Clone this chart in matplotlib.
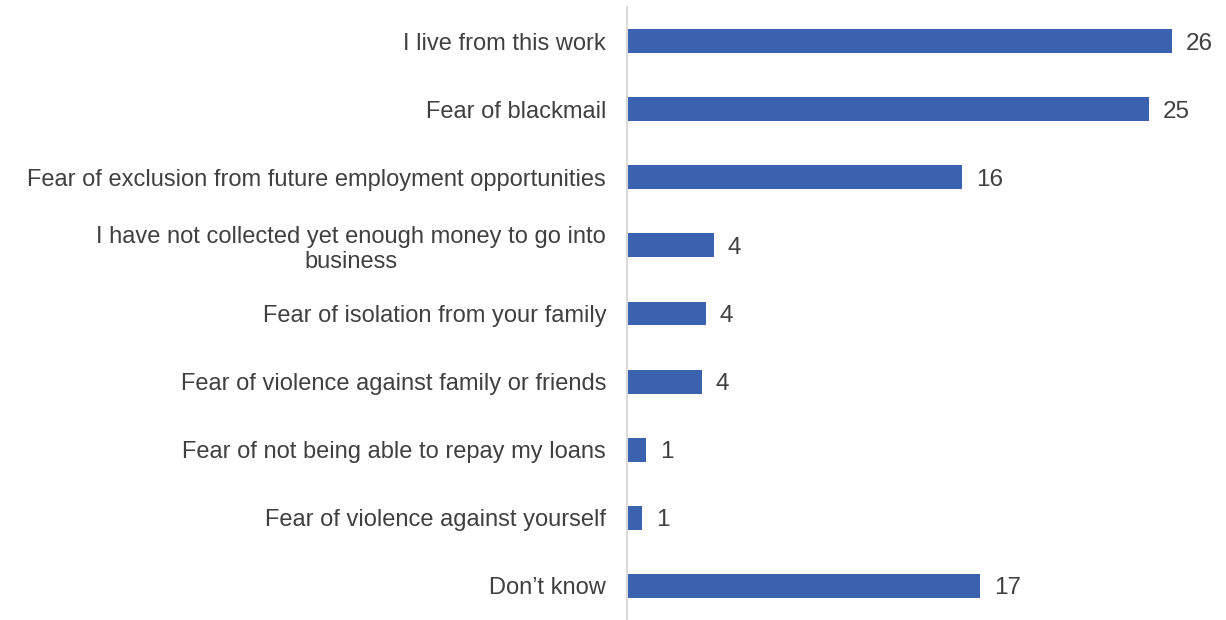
import matplotlib
matplotlib.use("Agg")
import matplotlib.pyplot as plt

categories = [
    "I live from this work",
    "Fear of blackmail",
    "Fear of exclusion from future employment opportunities",
    "I have not collected yet enough money to go into\nbusiness",
    "Fear of isolation from your family",
    "Fear of violence against family or friends",
    "Fear of not being able to repay my loans",
    "Fear of violence against yourself",
    "Don\u2019t know",
]
values = [26.0, 24.9, 16.0, 4.15, 3.77, 3.58, 0.91, 0.72, 16.84]

plt.rcParams['font.family'] = ['Liberation Sans', 'DejaVu Sans']
text_color = "#404040"
bar_color = "#3A62AF"

fig = plt.figure(figsize=(12.26, 6.2), dpi=100)
ax = fig.add_axes([627/1226, 0.0, (1214-627)/1226, 1 - 7/620])

ypos = list(range(len(categories)))
bars = ax.barh(ypos, values, height=0.35, color=bar_color)
ax.set_ylim(len(categories) - 0.5, -0.5)
ax.set_xlim(0, 28)

ax.set_yticks(ypos)
ax.set_yticklabels(categories, fontsize=17, color=text_color)
for lbl in ax.get_yticklabels():
    lbl.set_multialignment('center')
    lbl.set_linespacing(1.2)
    lbl.set_verticalalignment('center_baseline')
ax.tick_params(axis='y', length=0, pad=15)
ax.set_xticks([])

for b, v in zip(bars, values):
    ax.annotate(f"{v:.0f}", xy=(b.get_width(), b.get_y() + b.get_height()/2),
                xytext=(10, 0), textcoords='offset points', va='center_baseline', ha='left',
                fontsize=17.5, color=text_color)

for s in ['top', 'right', 'bottom']:
    ax.spines[s].set_visible(False)
ax.spines['left'].set_color('#D9D9D9')
ax.spines['left'].set_linewidth(1.5)

fig.savefig("out.png", dpi=100)
